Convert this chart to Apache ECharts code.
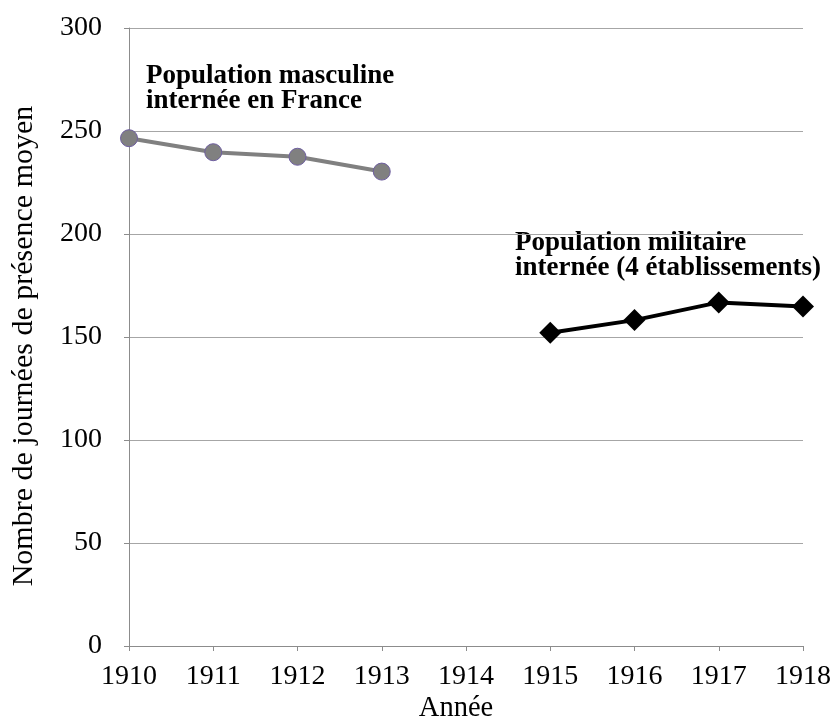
<!DOCTYPE html>
<html>
<head>
<meta charset="utf-8">
<script src="https://cdn.jsdelivr.net/npm/echarts@6/dist/echarts.min.js"></script>
<style>
html,body{margin:0;padding:0;background:#fff;}
#chart{width:834px;height:722px;}
</style>
</head>
<body>
<div id="chart"></div>
<script>
const years = ['1910','1911','1912','1913','1914','1915','1916','1917','1918'];
const masculine = [246.5, 239.7, 237.5, 230.3, null, null, null, null, null];
const militaire = [null, null, null, null, null, 152.1, 158.2, 166.8, 164.8];
const yTicks = [0, 50, 100, 150, 200, 250, 300];
const labelMasculine = 'Population masculine\ninternée en France';
const labelMilitaire = 'Population militaire\ninternée (4 établissements)';
const xTitle = 'Année';
const yTitle = 'Nombre de journées de présence moyen';

const FONT = '"Liberation Serif", "Times New Roman", serif';
const chart = echarts.init(document.getElementById('chart'), null, {renderer: 'canvas'});
chart.setOption({
  animation: false,
  backgroundColor: '#ffffff',
  grid: {left: 129, right: 31, top: 28, bottom: 76, containLabel: false},
  xAxis: {
    type: 'category',
    data: years,
    boundaryGap: false,
    axisLine: {lineStyle: {color: '#8c8c8c', width: 1}},
    axisTick: {show: true, alignWithLabel: true, length: 5, lineStyle: {color: '#8c8c8c'}},
    axisLabel: {fontFamily: FONT, fontSize: 28, color: '#000', margin: 17},
    splitLine: {show: false}
  },
  yAxis: {
    type: 'value',
    min: yTicks[0],
    max: yTicks[yTicks.length - 1],
    interval: 50,
    axisLine: {show: true, lineStyle: {color: '#8c8c8c', width: 1}},
    axisTick: {show: true, length: 5, lineStyle: {color: '#8c8c8c'}},
    axisLabel: {fontFamily: FONT, fontSize: 28, color: '#000', margin: 27},
    splitLine: {show: true, lineStyle: {color: '#a6a6a6', width: 1}}
  },
  series: [
    {
      type: 'line',
      data: masculine,
      connectNulls: false,
      symbol: 'circle',
      symbolSize: 17,
      lineStyle: {color: '#808080', width: 4},
      itemStyle: {color: '#808080', borderColor: '#6e5ea0', borderWidth: 1}
    },
    {
      type: 'line',
      data: militaire,
      connectNulls: false,
      symbol: 'diamond',
      symbolSize: 22,
      lineStyle: {color: '#000000', width: 4},
      itemStyle: {color: '#000000'}
    }
  ],
  graphic: [
    {
      type: 'text', left: 146, top: 63,
      style: {text: labelMasculine, fontFamily: FONT, fontWeight: 'bold', fontSize: 27, lineHeight: 25, fill: '#000'}
    },
    {
      type: 'text', left: 515, top: 230,
      style: {text: labelMilitaire, fontFamily: FONT, fontWeight: 'bold', fontSize: 27, lineHeight: 25, fill: '#000'}
    },
    {
      type: 'text', x: 456, y: 709,
      style: {text: xTitle, fontFamily: FONT, fontSize: 28.5, fill: '#000', align: 'center', verticalAlign: 'middle'}
    },
    {
      type: 'text', x: 24, y: 346, rotation: Math.PI / 2,
      style: {text: yTitle, fontFamily: FONT, fontSize: 30, fill: '#000', align: 'center', verticalAlign: 'middle'}
    }
  ]
});
</script>
</body>
</html>
